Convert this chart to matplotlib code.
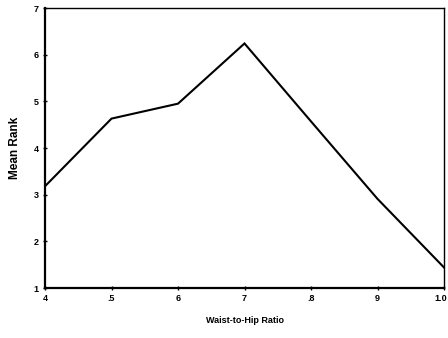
import matplotlib
matplotlib.use("Agg")
import matplotlib.pyplot as plt
import matplotlib.transforms as mtransforms

plt.rcParams['font.family'] = ['Liberation Sans', 'DejaVu Sans']

ratios = [0.4, 0.5, 0.6, 0.7, 0.8, 0.9, 1.0]
mean_rank = [3.18, 4.63, 4.95, 6.24, 4.57, 2.91, 1.44]
x_tick_labels = ["4", ".5", "6", "7", ".8", "9", "1.0"]
y_ticks = [1, 2, 3, 4, 5, 6, 7]

fig = plt.figure(figsize=(4.48, 3.38), dpi=100)
ax = fig.add_axes([45/448, 50/338, 399/448, 280/338])

ax.plot(ratios, mean_rank, color='black', linewidth=1.5, solid_joinstyle='miter')

ax.set_xlim(0.4, 1.0)
ax.set_ylim(1, 7)
ax.set_xticks(ratios)
ax.set_xticklabels(x_tick_labels)
ax.set_yticks(y_ticks)
ax.tick_params(axis='both', direction='inout', length=3, width=1, labelsize=6.5, pad=3)
for lbl in ax.get_xticklabels() + ax.get_yticklabels():
    lbl.set_fontweight('bold')
last = ax.get_xticklabels()[-1]
last.set_horizontalalignment('right')
last.set_transform(last.get_transform() + mtransforms.ScaledTranslation(3/100, 0, fig.dpi_scale_trans))

for side in ['left', 'bottom']:
    ax.spines[side].set_linewidth(1.6)
for side in ['top', 'right']:
    ax.spines[side].set_linewidth(1.0)

ax.set_ylabel("Mean Rank", fontsize=8.5, fontweight='bold', labelpad=9)
ax.set_xlabel("Waist-to-Hip Ratio", fontsize=6.5, fontweight='bold', labelpad=9)

fig.savefig("out.png", dpi=100)
